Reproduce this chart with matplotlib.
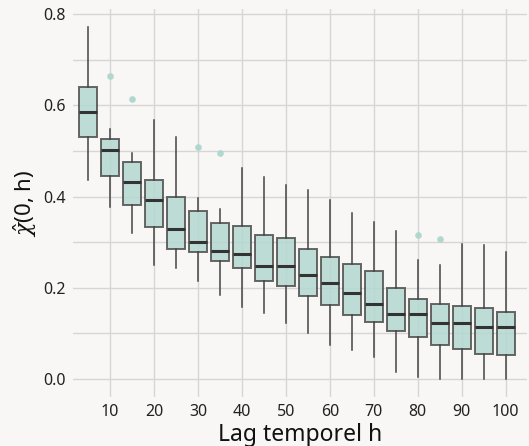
import matplotlib
matplotlib.use("Agg")
import matplotlib.pyplot as plt
from matplotlib.ticker import MultipleLocator

plt.rcParams['font.family'] = ['Noto Sans', 'DejaVu Sans']
plt.rcParams['mathtext.fontset'] = 'dejavuserif'

lags = [5, 10, 15, 20, 25, 30, 35, 40, 45, 50, 55, 60, 65, 70, 75, 80, 85, 90, 95, 100]
whislo = [0.436, 0.377, 0.321, 0.250, 0.243, 0.215, 0.185, 0.158, 0.144, 0.123,
          0.100, 0.075, 0.063, 0.048, 0.016, 0.005, 0.001, 0.001, 0.001, 0.001]
q1 = [0.530, 0.446, 0.381, 0.333, 0.285, 0.278, 0.259, 0.243, 0.215, 0.205,
      0.183, 0.162, 0.140, 0.126, 0.105, 0.093, 0.074, 0.066, 0.055, 0.052]
med = [0.586, 0.501, 0.432, 0.392, 0.328, 0.300, 0.281, 0.274, 0.248, 0.247,
       0.228, 0.210, 0.188, 0.165, 0.143, 0.143, 0.122, 0.122, 0.115, 0.114]
q3 = [0.639, 0.526, 0.475, 0.436, 0.400, 0.369, 0.343, 0.335, 0.316, 0.310,
      0.286, 0.268, 0.253, 0.237, 0.200, 0.176, 0.164, 0.160, 0.156, 0.148]
whishi = [0.771, 0.547, 0.495, 0.568, 0.530, 0.397, 0.373, 0.462, 0.442, 0.425,
          0.414, 0.392, 0.363, 0.345, 0.325, 0.260, 0.250, 0.296, 0.293, 0.278]
fliers = [[], [0.665], [0.614], [], [], [0.509], [0.496], [], [], [],
          [], [], [], [], [], [0.316], [0.307], [], [], []]

xticks = [10, 20, 30, 40, 50, 60, 70, 80, 90, 100]
yticks = [0.0, 0.2, 0.4, 0.6, 0.8]

bg = '#f8f7f5'
fig = plt.figure(figsize=(5.29, 4.46), dpi=100, facecolor=bg)
ax = fig.add_axes([0.138, 0.110, 0.858, 0.870], facecolor=bg)

stats = []
for i in range(len(lags)):
    stats.append(dict(med=med[i], q1=q1[i], q3=q3[i], whislo=whislo[i],
                      whishi=whishi[i], fliers=fliers[i]))

ax.bxp(stats, positions=lags, widths=4.0, patch_artist=True, showcaps=False,
       boxprops=dict(facecolor='#b2d8d0', edgecolor='#4d4d4d', linewidth=1.4, alpha=0.85),
       medianprops=dict(color='#333333', linewidth=2.2),
       whiskerprops=dict(color='#444444', linewidth=1.1),
       flierprops=dict(marker='o', markerfacecolor='#aad5cb', markeredgecolor='none',
                       markersize=4.8, alpha=0.9))

ax.set_xlim(1.6, 104.8)
ax.set_ylim(-0.039, 0.811)
ax.set_xticks(xticks)
ax.set_xticklabels([str(t) for t in xticks])
ax.set_yticks(yticks)
ax.set_yticklabels([f'{t:.1f}' for t in yticks])
ax.yaxis.set_minor_locator(MultipleLocator(0.1))
ax.grid(True, which='major', color='#d6d6d6', linewidth=1.0, zorder=0)
ax.grid(True, which='minor', axis='y', color='#d6d6d6', linewidth=1.0, zorder=0)
ax.set_axisbelow(True)
ax.tick_params(length=0, which='both', labelsize=11.5, colors='#222222', pad=5)
for s in ax.spines.values():
    s.set_visible(False)

ax.set_xlabel('Lag temporel h', fontsize=16.5, color='#111111', labelpad=2)
ax.set_ylabel(r'$\hat{\chi}$(0, h)', fontsize=16, color='#111111', labelpad=3)

fig.savefig('out.png', dpi=100, facecolor=bg)
